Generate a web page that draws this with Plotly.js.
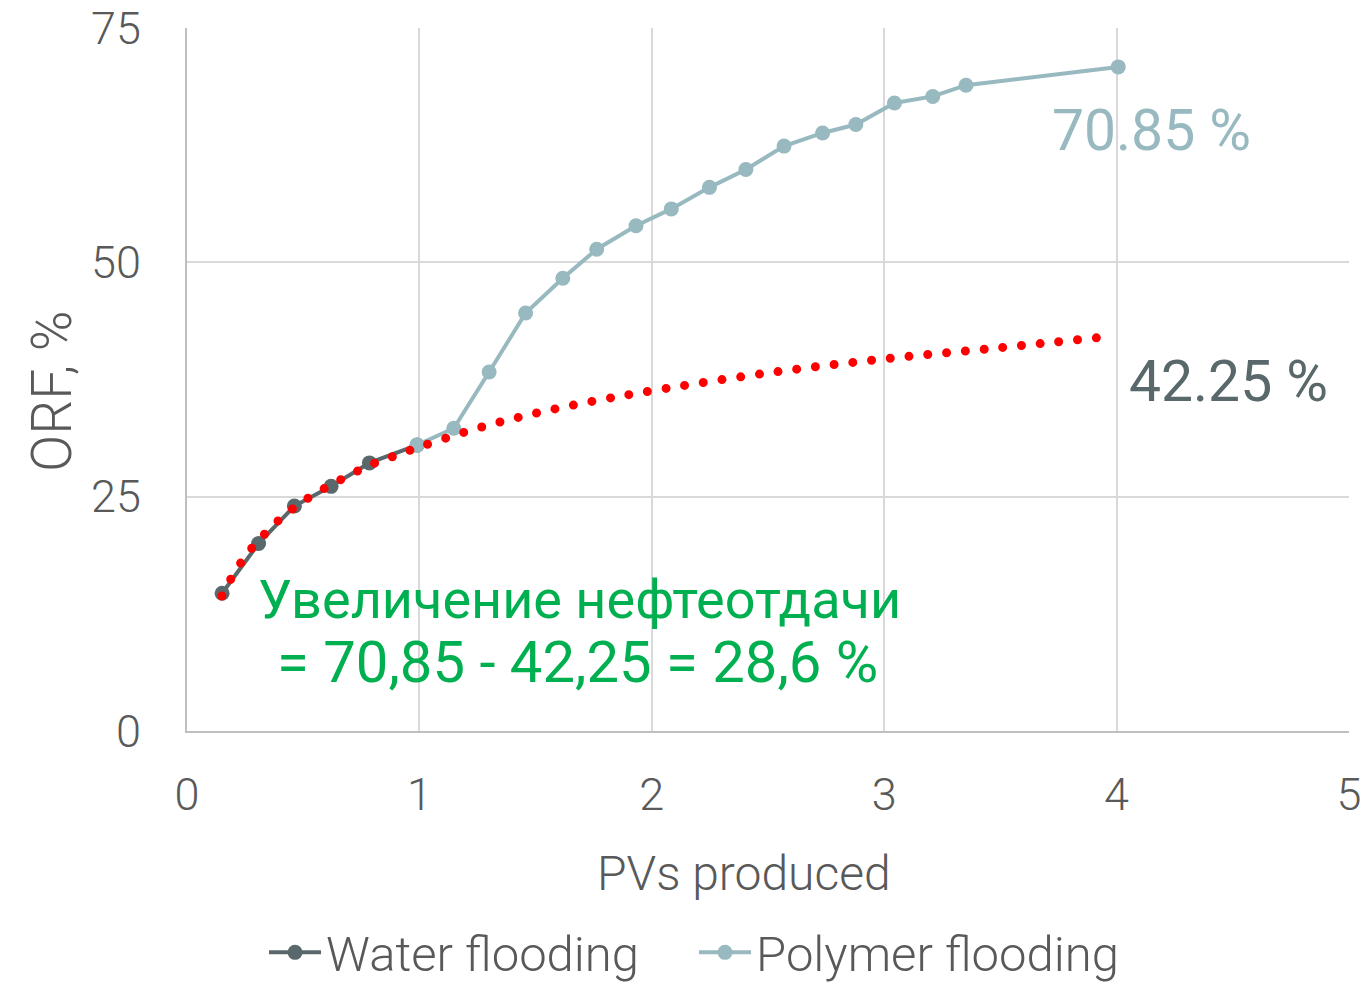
<!DOCTYPE html>
<html>
<head>
<meta charset="utf-8">
<script src="https://cdn.plot.ly/plotly-3.0.1.min.js"></script>
<style>
html, body { margin: 0; padding: 0; background: #fff; }
#chart { width: 1367px; height: 986px; }
.trend-dots path.js-line { stroke-linecap: round !important; }
</style>
</head>
<body>
<div id="chart"></div>
<script>
// Water flooding
const waterX = [0.151, 0.308, 0.462, 0.62, 0.785, 0.99];
const waterY = [14.7, 20.0, 24.0, 26.1, 28.6, 30.5];

// Polymer flooding
const polymerX = [0.99, 1.148, 1.30, 1.457, 1.617, 1.763, 1.932, 2.084, 2.248, 2.405, 2.569, 2.735, 2.878, 3.044, 3.209, 3.352, 4.007];
const polymerY = [30.5, 32.3, 38.3, 44.6, 48.3, 51.4, 53.9, 55.7, 58.0, 59.9, 62.4, 63.8, 64.7, 67.0, 67.7, 68.9, 70.85];

// Dotted trend line
const trendX = [0.15, 0.2, 0.25, 0.3, 0.4, 0.5, 0.6, 0.7, 0.8, 0.9, 1.0, 1.25, 1.5, 1.75, 2.0, 2.5, 3.0, 3.5, 3.935];
const trendY = [14.4, 16.7, 18.6, 20.1, 22.6, 24.5, 26.0, 27.3, 28.5, 29.4, 30.3, 32.3, 33.9, 35.2, 36.3, 38.2, 39.7, 40.9, 42.0];

const xTicks = [0, 1, 2, 3, 4, 5];
const yTicks = [0, 25, 50, 75];

const xTitle = 'PVs produced';
const yTitle = 'ORF, %';
const labelPolymer = '70.85 %';
const labelWater = '42.25 %';
const labelGain1 = 'Увеличение нефтеотдачи';
const labelGain2 = '= 70,85 - 42,25 = 28,6 %';

const FONT = 'Roboto, "Open Sans", sans-serif';
const TEXT = '#595959';
const WATER = '#59686b';
const POLY = '#97b9bf';
const GREEN = '#00b050';

const traces = [
  {
    x: waterX, y: waterY, name: 'Water flooding', type: 'scatter', mode: 'lines+markers',
    line: {color: WATER, width: 4}, marker: {color: WATER, size: 15}
  },
  {
    x: polymerX, y: polymerY, name: 'Polymer flooding', type: 'scatter', mode: 'lines+markers',
    line: {color: POLY, width: 4}, marker: {color: POLY, size: 15}
  },
  {
    x: trendX, y: trendY, name: 'trend', type: 'scatter', mode: 'lines', showlegend: false,
    line: {color: '#ff0000', width: 9, dash: '0px,18.85px', shape: 'spline'}
  }
];

const layout = {
  width: 1367, height: 986,
  margin: {l: 187, r: 18, t: 28, b: 255},
  paper_bgcolor: '#ffffff', plot_bgcolor: '#ffffff',
  font: {family: FONT, color: TEXT, size: 45, weight: 300},
  showlegend: true,
  legend: {
    orientation: 'h', xref: 'container', yref: 'container',
    x: 0.5077, xanchor: 'center', y: 0.034, yanchor: 'middle',
    font: {family: FONT, color: TEXT, size: 49, weight: 300},
    itemwidth: 52, entrywidth: 363, entrywidthmode: 'pixels', tracegroupgap: 0
  },
  xaxis: {
    range: [0, 5], tickvals: xTicks, ticktext: xTicks.map(String),
    showgrid: true, gridcolor: '#d9d9d9', gridwidth: 2,
    showline: true, linecolor: '#bfbfbf', linewidth: 2,
    zeroline: false, ticks: '', ticklabelstandoff: 23,
    tickfont: {family: FONT, color: TEXT, size: 45, weight: 300},
    fixedrange: true
  },
  yaxis: {
    range: [0, 75], tickvals: yTicks, ticktext: yTicks.map(String),
    showgrid: true, gridcolor: '#d9d9d9', gridwidth: 2,
    showline: true, linecolor: '#bfbfbf', linewidth: 2,
    zeroline: false, ticks: '', ticklabelstandoff: 35,
    tickfont: {family: FONT, color: TEXT, size: 45, weight: 300},
    fixedrange: true
  },
  annotations: [
    {x: 0.4793, y: -0.202, xref: 'paper', yref: 'paper', text: xTitle, showarrow: false,
     xanchor: 'center', yanchor: 'middle',
     font: {family: FONT, color: TEXT, size: 48, weight: 300}},
    {x: (52 - 187) / 1162, y: (731 - 392) / 703, xref: 'paper', yref: 'paper', text: yTitle,
     showarrow: false, textangle: -90, xanchor: 'center', yanchor: 'middle',
     font: {family: FONT, color: TEXT, size: 55, weight: 300}},
    {x: 4.15, y: 64.07, xref: 'x', yref: 'y', text: labelPolymer, showarrow: false,
     font: {family: FONT, color: POLY, size: 57, weight: 400}},
    {x: 4.48, y: 37.27, xref: 'x', yref: 'y', text: labelWater, showarrow: false,
     font: {family: FONT, color: WATER, size: 57, weight: 400}},
    {x: 1.691, y: 13.98, xref: 'x', yref: 'y', text: labelGain1, showarrow: false,
     font: {family: FONT, color: GREEN, size: 54, weight: 400}},
    {x: 1.682, y: 7.36, xref: 'x', yref: 'y', text: labelGain2, showarrow: false,
     font: {family: FONT, color: GREEN, size: 58, weight: 400}}
  ]
};

Plotly.newPlot('chart', traces, layout, {displayModeBar: false, staticPlot: true}).then(function (gd) {
  const tr = gd.querySelectorAll('.scatterlayer .trace');
  if (tr.length >= 3) tr[2].classList.add('trend-dots');
  tr.forEach(function (t, i) {
    if (i === 2) t.querySelectorAll('path.js-line').forEach(function (p) { p.style.strokeLinecap = 'round'; });
  });
});
</script>
</body>
</html>
